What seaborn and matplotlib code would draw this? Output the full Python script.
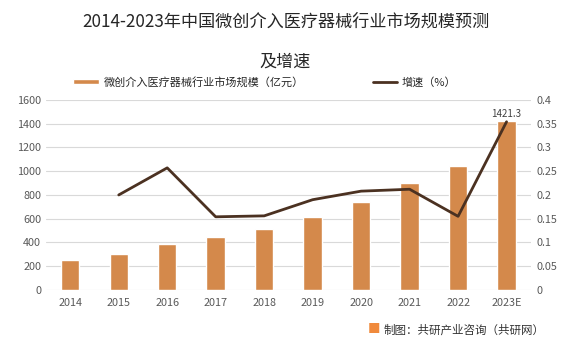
import matplotlib
matplotlib.use('Agg')
import matplotlib.pyplot as plt
import numpy as np
import pandas as pd
import seaborn as sns

years = ['2014', '2015', '2016', '2017', '2018', '2019', '2020', '2021', '2022', '2023E']
market_size = [253, 303, 385, 446, 514, 615, 741, 901, 1044, 1421.3]
growth = [np.nan, 0.20, 0.257, 0.154, 0.156, 0.19, 0.208, 0.212, 0.155, 0.354]

bar_label = '微创介入医疗器械行业市场规模（亿元）'
line_label = '增速（%）'
source = '制图：共研产业咨询（共研网）'

bar_color = '#D4894B'
line_color = '#4B3121'
tick_color = '#595959'

sns.set_theme(style='white')
plt.rcParams['font.family'] = ['Noto Sans CJK SC', 'DejaVu Sans']

df = pd.DataFrame({'year': years, 'size': market_size, 'growth': growth})
df['pos'] = np.arange(len(df))

fig = plt.figure(figsize=(5.71, 3.54), dpi=100)
ax = fig.add_axes([0.0806, 0.1808, 0.849, 0.537])

sns.barplot(data=df, x='year', y='size', color=bar_color, width=0.38,
            saturation=1, ax=ax, label=bar_label, zorder=2)
ax.set_ylim(0, 1600)
ax.set_yticks(range(0, 1601, 200))
ax.grid(axis='y', color='#D9D9D9', linewidth=0.8, zorder=0)
ax.set_axisbelow(True)
ax.set_xlabel('')
ax.set_ylabel('')
for s in ax.spines.values():
    s.set_visible(False)
ax.tick_params(axis='both', length=0, labelsize=7.8, colors=tick_color)
ax.tick_params(axis='x', pad=6)

ax.text(df['pos'].iloc[-1], df['size'].iloc[-1] + 20, f"{df['size'].iloc[-1]:.1f}",
        ha='center', va='bottom', fontsize=7, color='#404040')

ax2 = ax.twinx()
sns.lineplot(data=df.dropna(), x='pos', y='growth', color=line_color,
             linewidth=2, ax=ax2, label=line_label, legend=False)
ax2.set_ylim(0, 0.4)
ax2.set_yticks(np.arange(0, 0.401, 0.05))
ax2.set_yticklabels(['0', '0.05', '0.1', '0.15', '0.2', '0.25', '0.3', '0.35', '0.4'])
ax2.set_ylabel('')
ax2.set_xlabel('')
for s in ax2.spines.values():
    s.set_visible(False)
ax2.tick_params(axis='y', length=0, labelsize=7.8, colors=tick_color, pad=4)
ax.set_xlim(-0.5, len(df) - 0.5)

fig.text(0.5, 0.938, '2014-2023年中国微创介入医疗器械行业市场规模预测',
         ha='center', va='center', fontsize=12.3, color='#262626')
fig.text(0.5, 0.825, '及增速', ha='center', va='center', fontsize=12.3, color='#262626')

h1, l1 = ax.get_legend_handles_labels()
h2, l2 = ax2.get_legend_handles_labels()
fig.legend(h1, l1, loc='center left', bbox_to_anchor=(0.11, 0.768), frameon=False,
           fontsize=8, handlelength=2.4, handleheight=0.4, handletextpad=0.4)
fig.legend(h2, l2, loc='center left', bbox_to_anchor=(0.635, 0.768), frameon=False,
           fontsize=8, handlelength=2.2, handletextpad=0.4)
if ax.get_legend():
    ax.get_legend().remove()

fig.text(0.655, 0.068, '■', ha='center', va='center', fontsize=9, color='#F08A3C')
fig.text(0.672, 0.068, source, ha='left', va='center', fontsize=8.3, color='#333333')

fig.savefig('out.png', dpi=100)
